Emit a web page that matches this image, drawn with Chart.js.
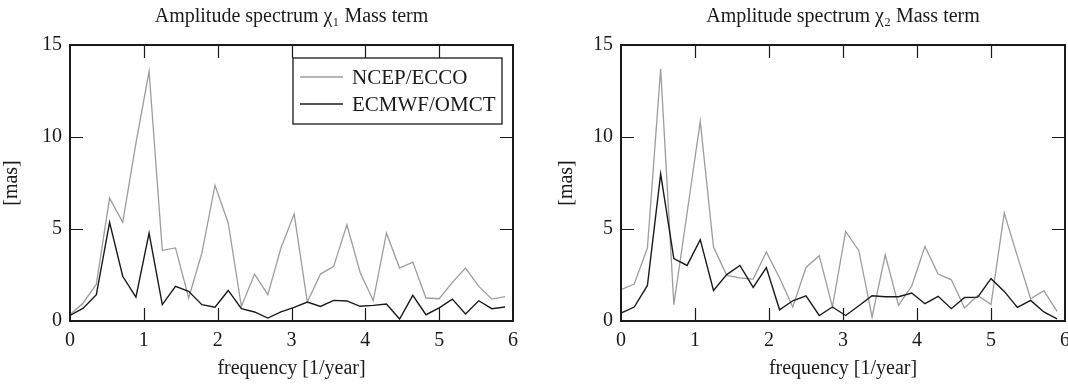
<!DOCTYPE html>
<html>
<head>
<meta charset="utf-8">
<script src="https://cdn.jsdelivr.net/npm/chart.js@4.4.1/dist/chart.umd.min.js"></script>
<style>
html, body { margin: 0; padding: 0; background: #fff; overflow: hidden; }
#wrap { position: relative; width: 1068px; height: 387px; overflow: hidden; }
.panel { position: absolute; top: 0; height: 387px; }
</style>
</head>
<body>
<div id="wrap">
  <div class="panel" style="left:0"><canvas id="chi1" width="534" height="387"></canvas></div>
  <div class="panel" style="left:534px"><canvas id="chi2" width="550" height="387"></canvas></div>
</div>
<script>
// frequencies [1/year], one point every 1/5.6 year^-1
const freqs = [0, 0.179, 0.357, 0.536, 0.714, 0.893, 1.071, 1.25, 1.429, 1.607, 1.786,
  1.964, 2.143, 2.321, 2.5, 2.679, 2.857, 3.036, 3.214, 3.393, 3.571, 3.75, 3.929,
  4.107, 4.286, 4.464, 4.643, 4.821, 5.0, 5.179, 5.357, 5.536, 5.714, 5.893];

const xTicks = [0, 1, 2, 3, 4, 5, 6];
const yTicks = [0, 5, 10, 15];
const seriesNames = ['NCEP/ECCO', 'ECMWF/OMCT'];

// chi1 mass term [mas]
const chi1Ncep = [0.34, 0.98, 2.0, 6.68, 5.36, 9.67, 13.57, 3.84, 3.97, 1.25, 3.69,
  7.37, 5.33, 0.79, 2.55, 1.43, 3.97, 5.81, 1.03, 2.55, 2.97, 5.23, 2.65,
  1.10, 4.78, 2.88, 3.2, 1.25, 1.21, 2.10, 2.88, 1.88, 1.19, 1.32];
const chi1Ecmwf = [0.3, 0.7, 1.43, 5.36, 2.43, 1.30, 4.78, 0.89, 1.88, 1.61, 0.89,
  0.75, 1.66, 0.67, 0.49, 0.16, 0.5, 0.74, 1.03, 0.79, 1.12, 1.09, 0.8,
  0.85, 0.92, 0.11, 1.39, 0.34, 0.71, 1.19, 0.38, 1.10, 0.67, 0.76];

// chi2 mass term [mas]
const chi2Ncep = [1.70, 2.01, 3.97, 13.7, 0.89, 5.87, 10.85, 4.02, 2.48, 2.34, 2.28,
  3.75, 2.34, 0.76, 2.91, 3.55, 0.76, 4.87, 3.82, 0.22, 3.60, 0.85, 1.9,
  4.05, 2.55, 2.24, 0.71, 1.39, 0.89, 5.87, 3.51, 1.21, 1.65, 0.52];
const chi2Ecmwf = [0.43, 0.76, 1.93, 7.99, 3.39, 3.02, 4.42, 1.66, 2.52, 3.02, 1.83,
  2.9, 0.61, 1.10, 1.37, 0.30, 0.76, 0.30, 0.83, 1.37, 1.32, 1.32, 1.52,
  0.94, 1.34, 0.67, 1.28, 1.30, 2.30, 1.61, 0.74, 1.12, 0.49, 0.12];

const INK = '#1a1a1a';
const GREY = '#9d9d9d';
const FONT = "'Liberation Serif', 'DejaVu Serif', serif";

Chart.defaults.font.family = FONT;
Chart.defaults.font.size = 20;
Chart.defaults.color = INK;

// pgfplots style box with inward ticks, title centred over the plot box
const framePlugin = {
  id: 'frame',
  afterDatasetsDraw(chart, args, opts) {
    const { ctx, chartArea: a, scales: { x, y } } = chart;
    const len = 13;
    ctx.save();
    ctx.strokeStyle = INK;
    ctx.lineWidth = 1.2;
    ctx.beginPath();
    xTicks.slice(1, -1).forEach(v => {
      const px = Math.round(x.getPixelForValue(v)) + 0.5;
      ctx.moveTo(px, a.bottom); ctx.lineTo(px, a.bottom - len);
      ctx.moveTo(px, a.top); ctx.lineTo(px, a.top + len);
    });
    yTicks.slice(1, -1).forEach(v => {
      const py = Math.round(y.getPixelForValue(v)) + 0.5;
      ctx.moveTo(a.left, py); ctx.lineTo(a.left + len, py);
      ctx.moveTo(a.right, py); ctx.lineTo(a.right - len, py);
    });
    ctx.stroke();
    ctx.lineWidth = 2;
    ctx.strokeRect(a.left, a.top, a.right - a.left, a.bottom - a.top);

    ctx.fillStyle = INK;
    ctx.font = '20px ' + FONT;
    ctx.textAlign = 'center';
    ctx.textBaseline = 'middle';
    ctx.fillText(opts.title, (a.left + a.right) / 2, 17);
    ctx.restore();
  }
};

// legend box in the upper right corner of the first panel
const legendPlugin = {
  id: 'boxLegend',
  afterDraw(chart, args, opts) {
    if (!opts.show) return;
    const { ctx, chartArea: a } = chart;
    const w = 209, h = 66;
    const left = a.right - 11 - w, top = a.top + 13;
    ctx.save();
    ctx.fillStyle = '#fff';
    ctx.fillRect(left, top, w, h);
    ctx.strokeStyle = INK;
    ctx.lineWidth = 1.3;
    ctx.strokeRect(left, top, w, h);
    ctx.font = '21px ' + FONT;
    ctx.textBaseline = 'middle';
    chart.data.datasets.forEach((ds, i) => {
      const cy = top + 19 + i * 27;
      ctx.strokeStyle = ds.borderColor;
      ctx.lineWidth = 1.5;
      ctx.beginPath();
      ctx.moveTo(left + 7, cy); ctx.lineTo(left + 50, cy);
      ctx.stroke();
      ctx.fillStyle = INK;
      ctx.fillText(ds.label, left + 59, cy + 1);
    });
    ctx.restore();
  }
};

const toPoints = vals => vals.map((v, i) => ({ x: freqs[i], y: v }));

function makeChart(id, title, ncep, ecmwf, opt) {
  return new Chart(document.getElementById(id), {
    type: 'line',
    data: {
      datasets: [
        { label: seriesNames[0], data: toPoints(ncep), borderColor: GREY, borderWidth: 1.3, pointRadius: 0, order: 2 },
        { label: seriesNames[1], data: toPoints(ecmwf), borderColor: INK, borderWidth: 1.4, pointRadius: 0, order: 1 }
      ]
    },
    options: {
      responsive: false,
      animation: false,
      layout: { padding: { top: 45, bottom: 0, left: 0, right: opt.padRight } },
      plugins: {
        legend: { display: false },
        tooltip: { enabled: false },
        title: { display: false },
        frame: { title: title },
        boxLegend: { show: opt.legend }
      },
      scales: {
        x: {
          type: 'linear', min: 0, max: 6,
          grid: { display: false, drawTicks: false }, border: { display: false },
          afterBuildTicks: s => { s.ticks = xTicks.map(v => ({ value: v })); },
          afterFit: s => { s.height = 66; },
          ticks: { padding: 8, color: INK },
          title: { display: true, text: 'frequency [1/year]', color: INK, padding: { top: 0, bottom: 6 } }
        },
        y: {
          min: 0, max: 15,
          grid: { display: false, drawTicks: false }, border: { display: false },
          afterBuildTicks: s => { s.ticks = yTicks.map(v => ({ value: v })); },
          afterFit: s => { s.width = opt.yWidth; },
          ticks: { padding: 8, color: INK },
          title: { display: true, text: '[mas]', color: INK, padding: { top: opt.yTitlePad, bottom: 0 } }
        }
      }
    },
    plugins: [framePlugin, legendPlugin]
  });
}

makeChart('chi1', 'Amplitude spectrum χ₁ Mass term', chi1Ncep, chi1Ecmwf,
  { padRight: 21, yWidth: 70, yTitlePad: 0, legend: true });
makeChart('chi2', 'Amplitude spectrum χ₂ Mass term', chi2Ncep, chi2Ecmwf,
  { padRight: 19, yWidth: 87, yTitlePad: 21, legend: false });
</script>
</body>
</html>
